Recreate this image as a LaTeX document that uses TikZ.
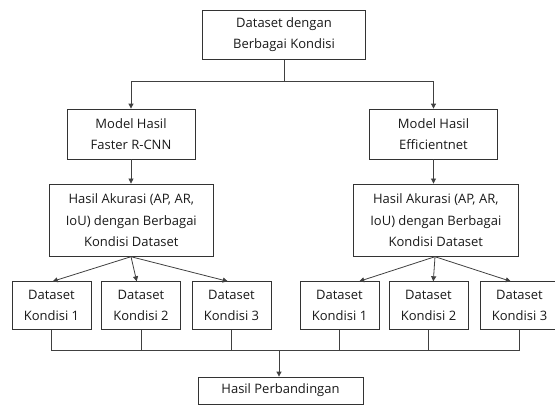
\documentclass[tikz,border=0pt]{standalone}
\usepackage{fontspec}
\setmainfont{Open Sans}
\usetikzlibrary{arrows.meta,calc}
\begin{document}
\begin{tikzpicture}[x=1pt,y=-1pt,
  box/.style={draw=black!80,line width=0.8pt,rectangle,inner sep=0pt,align=center,
    font=\fontsize{13}{21.5}\selectfont,text=black!90},
  conn/.style={draw=black!75,line width=0.8pt},
  arr/.style={conn,-{Triangle[length=5pt,width=5pt]}}]
\useasboundingbox (0,0) rectangle (555,405);
\node[box,minimum width=163.5pt,minimum height=49.3pt] (top) at (284,34.7) {Dataset dengan\\Berbagai Kondisi};
\node[box,minimum width=128pt,minimum height=50pt] (ml) at (131,134) {Model Hasil\\Faster R-CNN};
\node[box,minimum width=128pt,minimum height=50pt] (mr) at (433.5,134) {Model Hasil\\Efficientnet};
\node[box,minimum width=164pt,minimum height=72.7pt] (hl) at (131.3,220.3) {Hasil Akurasi (AP, AR,\\IoU) dengan Berbagai\\Kondisi Dataset};
\node[box,minimum width=165pt,minimum height=72.7pt] (hr) at (435.8,220.3) {Hasil Akurasi (AP, AR,\\IoU) dengan Berbagai\\Kondisi Dataset};
\foreach \n/\x/\k in {l1/51.5/1,l2/141/2,l3/231.5/3,r1/339.5/1,r2/428.5/2,r3/519.5/3}{
  \node[box,minimum width=79pt,minimum height=47.6pt] (\n) at (\x,305.5) {Dataset\\Kondisi \k};
}
\node[box,minimum width=165pt,minimum height=27pt] (res) at (280.5,390.5) {Hasil Perbandingan};
% top split
\coordinate (sp) at (284,81);
\draw[conn] (top.south) -- (sp);
\draw[arr] (sp) -| (ml.north);
\draw[arr] (sp) -| (mr.north);
\draw[arr] (ml.south) -- (ml.south |- hl.north);
\draw[arr] (mr.south) -- (mr.south |- hr.north);
% fan out
\coordinate (hlo) at (131,256.7);
\coordinate (hro) at (435,256.7);
\draw[arr] (hlo) -- ($(l1.north)+(1.2,0)$);
\draw[arr] (hlo) -- ($(l2.north)+(-4.3,0)$);
\draw[arr] (hlo) -- ($(l3.north)+(-3.8,0)$);
\draw[arr] (hro) -- ($(r1.north)+(19.8,0)$);
\draw[arr] (hro) -- ($(r2.north)+(4.8,0)$);
\draw[arr] (hro) -- ($(r3.north)+(-8.8,0)$);
% merge
\coordinate (mg) at (279,350.7);
\foreach \n in {l1,l2,l3,r1,r2,r3}{
  \draw[conn] (\n.south) -- (\n.south |- mg);
}
\draw[conn] (l1.south |- mg) -- (r3.south |- mg);
\draw[arr] (mg) -- (mg |- res.north);
\end{tikzpicture}
\end{document}
